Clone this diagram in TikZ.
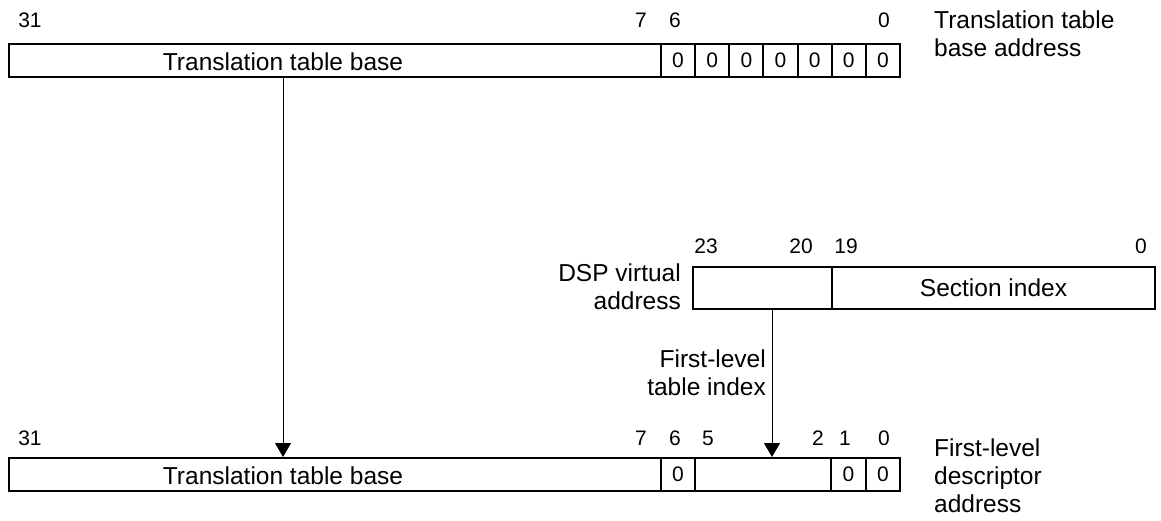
\documentclass[tikz,border=0pt]{standalone}
\usepackage{fontspec}
\setmainfont{Liberation Sans}
\usetikzlibrary{arrows.meta}
\begin{document}
\begin{tikzpicture}[x=1pt,y=-1pt,
  field/.style={draw,line width=2pt,inner sep=0pt,minimum height=33pt},
  bit/.style={font=\fontsize{21}{23}\selectfont,inner sep=0pt,anchor=center},
  lbl/.style={font=\fontsize{24.5}{28}\selectfont,inner sep=0pt},
  arr/.style={line width=1pt,-{Triangle[width=16pt,length=14pt]}}]
\useasboundingbox (0,0) rectangle (1161,521);
% top register
\node[field,minimum width=652pt] (tbase) at (335,60.5) {};
\foreach \i in {0,...,6}{
  \node[field,minimum width=34.14pt,bit] (tz\i) at ({678.07+34.14*\i},60.5) {0};
}
\node[lbl] (tlabel) at (283,62) {Translation table base};
\node[bit] at (30,20) {31};
\node[bit] at (641,20) {7};
\node[bit] at (675,20) {6};
\node[bit] at (884,20) {0};
\node[lbl,anchor=west,align=left] (tname) at (934,34) {Translation table\\base address};
% DSP virtual address
\node[field,minimum width=139pt,minimum height=42pt] (dspidx) at (762.5,288) {};
\node[field,minimum width=323pt,minimum height=42pt,lbl] (dspsec) at (993.5,288) {Section index};
\node[bit] at (706,246) {23};
\node[bit] at (801,246) {20};
\node[bit] at (846,246) {19};
\node[bit] at (1141,246) {0};
\node[lbl,anchor=east,align=right] (dspname) at (681,287) {DSP virtual\\address};
\node[lbl,anchor=east,align=right] (idxname) at (766,373) {First-level\\table index};
% bottom register
\node[field,minimum width=652pt] (bbase) at (335,474.5) {};
\node[field,minimum width=34pt,bit] (bz6) at (678,474.5) {0};
\node[field,minimum width=136pt] (bidx) at (763,474.5) {};
\node[field,minimum width=35pt,bit] (bz1) at (848.5,474.5) {0};
\node[field,minimum width=34pt,bit] (bz0) at (883,474.5) {0};
\node[lbl] (blabel) at (283,476) {Translation table base};
\node[bit] at (30,438) {31};
\node[bit] at (641,438) {7};
\node[bit] at (675,438) {6};
\node[bit] at (708,438) {5};
\node[bit] at (818,438) {2};
\node[bit] at (845,438) {1};
\node[bit] at (884,438) {0};
\node[lbl,anchor=west,align=left] (bname) at (934,476) {First-level\\descriptor\\address};
% arrows
\draw[arr] (tlabel |- tbase.south) -- (tlabel |- bbase.north);
\draw[arr] ([xshift=9.5pt]dspidx.south) -- ([xshift=9.5pt]dspidx.south |- bidx.north);
\end{tikzpicture}
\end{document}
